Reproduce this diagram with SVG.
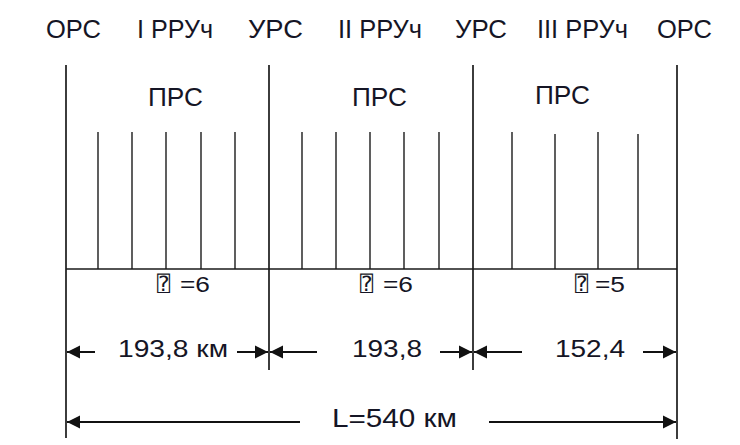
<svg xmlns="http://www.w3.org/2000/svg" width="740" height="445" viewBox="0 0 740 445">
<style>
.t{font-family:"Liberation Sans",Arial,sans-serif;fill:#151525}
.h{font-size:25px}
.d{font-size:23px}
.n{font-size:22px}
.q{font-family:"DejaVu Sans Mono","DejaVu Sans",monospace;font-size:21px;fill:#151525}
.m{stroke:#1a1a1a;stroke-width:1.7;fill:none}
.k{stroke:#1a1a1a;stroke-width:1.4;fill:none}
.a{stroke:#111;stroke-width:2;fill:none;marker-end:url(#ah)}
</style>
<defs>
<marker id="ah" markerUnits="userSpaceOnUse" markerWidth="16" markerHeight="16" refX="13" refY="7" orient="auto" viewBox="0 0 16 16">
<path d="M0,0.5 L13,7 L0,13.5 z" fill="#111"/>
</marker>
</defs>
<rect width="740" height="445" fill="#fff"/>
<g id="labels-top">
<text class="t h" x="46" y="38" textLength="55" lengthAdjust="spacingAndGlyphs">ОРС</text>
<text class="t h" x="137" y="38" textLength="76" lengthAdjust="spacingAndGlyphs">I РРУч</text>
<text class="t h" x="248" y="38" textLength="55" lengthAdjust="spacingAndGlyphs">УРС</text>
<text class="t h" x="338" y="38" textLength="84" lengthAdjust="spacingAndGlyphs">II РРУч</text>
<text class="t h" x="455" y="38" textLength="52" lengthAdjust="spacingAndGlyphs">УРС</text>
<text class="t h" x="537" y="38" textLength="91" lengthAdjust="spacingAndGlyphs">III РРУч</text>
<text class="t h" x="657" y="38" textLength="55" lengthAdjust="spacingAndGlyphs">ОРС</text>
</g>
<g id="node-ops-left"><line class="m" x1="66" y1="65" x2="66" y2="438"/></g>
<g id="node-urs-1"><line class="m" x1="269" y1="65" x2="269" y2="370"/></g>
<g id="node-urs-2"><line class="m" x1="473" y1="65" x2="473" y2="370"/></g>
<g id="node-ops-right"><line class="m" x1="677" y1="65" x2="677" y2="439"/></g>
<g id="section-1">
<text class="t h" x="148" y="106" textLength="55" lengthAdjust="spacingAndGlyphs">ПРС</text>
<line class="k" x1="98" y1="132" x2="98" y2="269"/>
<line class="k" x1="132" y1="132" x2="132" y2="269"/>
<line class="k" x1="166" y1="132" x2="166" y2="269"/>
<line class="k" x1="201" y1="132" x2="201" y2="269"/>
<line class="k" x1="235" y1="132" x2="235" y2="269"/>
<text class="q" x="157" y="291" textLength="13" lengthAdjust="spacingAndGlyphs">⍰</text>
<text class="t n" x="180" y="292" textLength="30" lengthAdjust="spacingAndGlyphs">=6</text>
</g>
<g id="section-2">
<text class="t h" x="352" y="106" textLength="55" lengthAdjust="spacingAndGlyphs">ПРС</text>
<line class="k" x1="302" y1="132" x2="302" y2="269"/>
<line class="k" x1="336" y1="132" x2="336" y2="269"/>
<line class="k" x1="370" y1="132" x2="370" y2="269"/>
<line class="k" x1="404" y1="132" x2="404" y2="269"/>
<line class="k" x1="439" y1="132" x2="439" y2="269"/>
<text class="q" x="360" y="291" textLength="13" lengthAdjust="spacingAndGlyphs">⍰</text>
<text class="t n" x="383" y="292" textLength="30" lengthAdjust="spacingAndGlyphs">=6</text>
</g>
<g id="section-3">
<text class="t h" x="535" y="104" textLength="55" lengthAdjust="spacingAndGlyphs">ПРС</text>
<line class="k" x1="512" y1="132" x2="512" y2="269"/>
<line class="k" x1="555" y1="134" x2="555" y2="269"/>
<line class="k" x1="598" y1="132" x2="598" y2="269"/>
<line class="k" x1="638" y1="134" x2="638" y2="269"/>
<text class="q" x="575" y="291" textLength="13" lengthAdjust="spacingAndGlyphs">⍰</text>
<text class="t n" x="595" y="292" textLength="30" lengthAdjust="spacingAndGlyphs">=5</text>
</g>
<g id="connectors">
<line class="m" x1="66" y1="269" x2="677" y2="269"/>
<line class="a" x1="95" y1="352" x2="67" y2="352"/>
<line class="a" x1="237" y1="352" x2="268" y2="352"/>
<line class="a" x1="317" y1="352" x2="270" y2="352"/>
<line class="a" x1="440" y1="352" x2="472" y2="352"/>
<line class="a" x1="522" y1="352" x2="474" y2="352"/>
<line class="a" x1="643" y1="352" x2="676" y2="352"/>
<line class="a" x1="300" y1="422" x2="67" y2="422"/>
<line class="a" x1="489" y1="422" x2="676" y2="422"/>
</g>
<g id="dimensions">
<text class="t d" x="118" y="357" textLength="110" lengthAdjust="spacingAndGlyphs">193,8 км</text>
<text class="t d" x="352" y="357" textLength="70" lengthAdjust="spacingAndGlyphs">193,8</text>
<text class="t d" x="555" y="357" textLength="70" lengthAdjust="spacingAndGlyphs">152,4</text>
<text class="t h" x="332" y="427" textLength="125" lengthAdjust="spacingAndGlyphs">L=540 км</text>
</g>
</svg>
